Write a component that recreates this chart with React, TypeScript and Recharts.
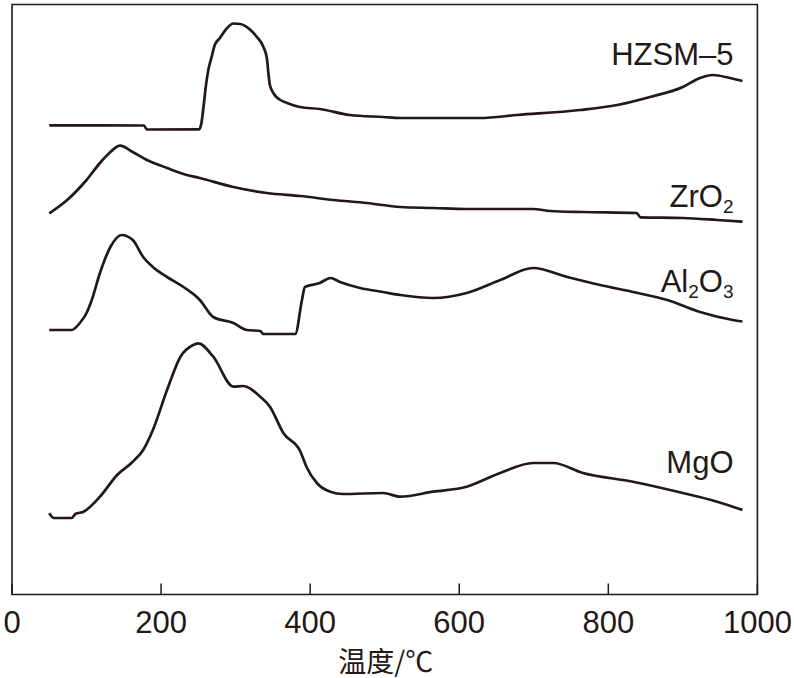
import React from "react";
import {
  LineChart,
  Line,
  XAxis,
  YAxis,
  ReferenceArea,
  ReferenceDot,
} from "recharts";

// TPD curves, signal in arbitrary units (offset per sample)
const hzsmTemp = [50, 177, 181, 251, 254, 257, 260, 263, 268, 272, 279, 288, 297, 306, 320, 328, 337, 342, 344, 346, 351, 360, 369, 386, 413, 453, 498, 521, 565, 628, 678, 762, 812, 856, 900, 923, 940, 963, 980];
const hzsmSignal = [469.2, 469, 465, 465.2, 471, 488, 508, 523, 538, 549.5, 556.5, 566, 571, 570.5, 564.5, 558, 548, 536, 521, 509.5, 501, 494.5, 491.5, 487.5, 485.5, 479.5, 477.5, 476.5, 476.5, 476.5, 479.5, 484.5, 489.5, 497.5, 507.5, 516.5, 519.5, 516.5, 513.5];

const zrTemp = [50, 74, 100, 118, 132, 145, 162, 181, 208, 230, 252, 297, 342, 387, 431, 476, 521, 565, 610, 699, 722, 766, 838, 843, 900, 946, 980];
const zrSignal = [381.2, 394.5, 414.5, 431.5, 442.5, 448.8, 442.5, 434.5, 426.5, 420.5, 416.5, 407.5, 401.5, 398.5, 394.5, 391.5, 387.5, 386.5, 385.5, 385.5, 383.5, 382.5, 381.5, 377.2, 376.5, 374.5, 372.8];

const alTemp = [50, 80, 91, 100, 107, 118, 132, 147, 162, 176, 189, 208, 230, 248, 252, 270, 297, 315, 333, 337, 380, 389, 393, 413, 427, 440, 467, 498, 521, 565, 610, 655, 699, 745, 789, 833, 879, 923, 967, 980];
const alSignal = [264.5, 264.5, 271.5, 281.5, 294.5, 321.5, 347.5, 359.5, 354.5, 337.5, 327.5, 317.5, 307.5, 297.5, 294.5, 277.5, 271.5, 264.5, 263.5, 260.5, 260.5, 294.5, 307.5, 311.5, 316.5, 312.5, 306.5, 302.5, 299.5, 296.5, 301.5, 314.5, 326.5, 317.5, 309.5, 302.5, 294.5, 282.5, 274.5, 273];

const mgoTemp = [50, 56, 80, 85, 96, 118, 141, 162, 176, 189, 208, 226, 243, 250, 270, 297, 310, 333, 346, 364, 387, 395, 409, 427, 444, 498, 521, 565, 610, 655, 699, 726, 766, 833, 900, 946, 980];
const mgoSignal = [81.2, 76.5, 76.5, 80.5, 82.8, 97.8, 119.5, 132.8, 144.5, 164.5, 204.5, 237.8, 249.5, 251.2, 237.8, 207.8, 208.5, 197.8, 187.8, 161.5, 142.8, 127.8, 111.5, 102.8, 100.5, 101.5, 97.8, 102.8, 107.8, 121.5, 131.5, 131.5, 121.5, 112.8, 101.5, 92.8, 84.5];

const xTicks = [0, 200, 400, 600, 800, 1000];

const toRows = (temps: number[], vals: number[]) =>
  temps.map((t, i) => ({ t, v: vals[i] }));

const series = [
  { key: "HZSM-5", rows: toRows(hzsmTemp, hzsmSignal) },
  { key: "ZrO2", rows: toRows(zrTemp, zrSignal) },
  { key: "Al2O3", rows: toRows(alTemp, alSignal) },
  { key: "MgO", rows: toRows(mgoTemp, mgoSignal) },
];

const INK = "#231815";
const FONT = "'Liberation Sans', Arial, Helvetica, sans-serif";

const Tick = (props: any) => {
  const { x, y, payload } = props;
  return (
    <g>
      <line x1={x} y1={y} x2={x} y2={y - 11} stroke={INK} strokeWidth={1.5} />
      <text x={x} y={y + 38.5} textAnchor="middle" fontSize={31} fontFamily={FONT} fill={INK}>
        {payload.value}
      </text>
    </g>
  );
};

// parts alternate: normal, subscript, normal, subscript...
const nameLabel = (...parts: string[]) => (p: any) => {
  const { x, y } = p.viewBox;
  return (
    <text x={x} y={y} textAnchor="end" fontSize={31} fontFamily={FONT} fill={INK}>
      {parts.map((s, i) =>
        i % 2 === 0 ? (
          <tspan key={i} fontSize={31} dy={i === 0 ? 0 : -6}>
            {s}
          </tspan>
        ) : (
          <tspan key={i} fontSize={19} dy={6}>
            {s}
          </tspan>
        )
      )}
    </text>
  );
};

export default function App() {
  return (
    <div style={{ position: "absolute", left: 0, top: 0, width: 794, height: 678, background: "#fff" }}>
      <LineChart width={794} height={678} margin={{ top: 4.5, right: 36.6, bottom: 0, left: 12 }}>
        <XAxis
          type="number"
          dataKey="t"
          domain={[0, 1000]}
          ticks={xTicks}
          allowDataOverflow
          axisLine={false}
          tickLine={false}
          tickSize={0}
          tickMargin={0}
          tick={<Tick />}
          height={83.5}
          label={{
            content: (p: any) => {
              const vb = p.viewBox;
              return (
                <text
                  x={vb.x + vb.width / 2 + 1}
                  y={vb.y + 77}
                  textAnchor="middle"
                  fontSize={28}
                  fontFamily="'Noto Sans CJK SC', sans-serif"
                  fill={INK}
                >
                  温度/℃
                </text>
              );
            },
          }}
        />
        <YAxis type="number" domain={[0, 590]} hide />
        <ReferenceArea x1={0} x2={1000} y1={0} y2={590} fill="none" stroke={INK} strokeWidth={1.6} />
        {series.map((s) => (
          <Line
            key={s.key}
            data={s.rows}
            dataKey="v"
            name={s.key}
            type="monotone"
            stroke={INK}
            strokeWidth={2.7}
            dot={false}
            activeDot={false}
            isAnimationActive={false}
          />
        ))}
        <ReferenceDot x={968} y={529.5} r={0} fill="none" stroke="none" label={{ content: nameLabel("HZSM–5") }} />
        <ReferenceDot x={968} y={387.5} r={0} fill="none" stroke="none" label={{ content: nameLabel("ZrO", "2") }} />
        <ReferenceDot x={968} y={302.5} r={0} fill="none" stroke="none" label={{ content: nameLabel("Al", "2", "O", "3") }} />
        <ReferenceDot x={968} y={121.5} r={0} fill="none" stroke="none" label={{ content: nameLabel("MgO") }} />
      </LineChart>
    </div>
  );
}
